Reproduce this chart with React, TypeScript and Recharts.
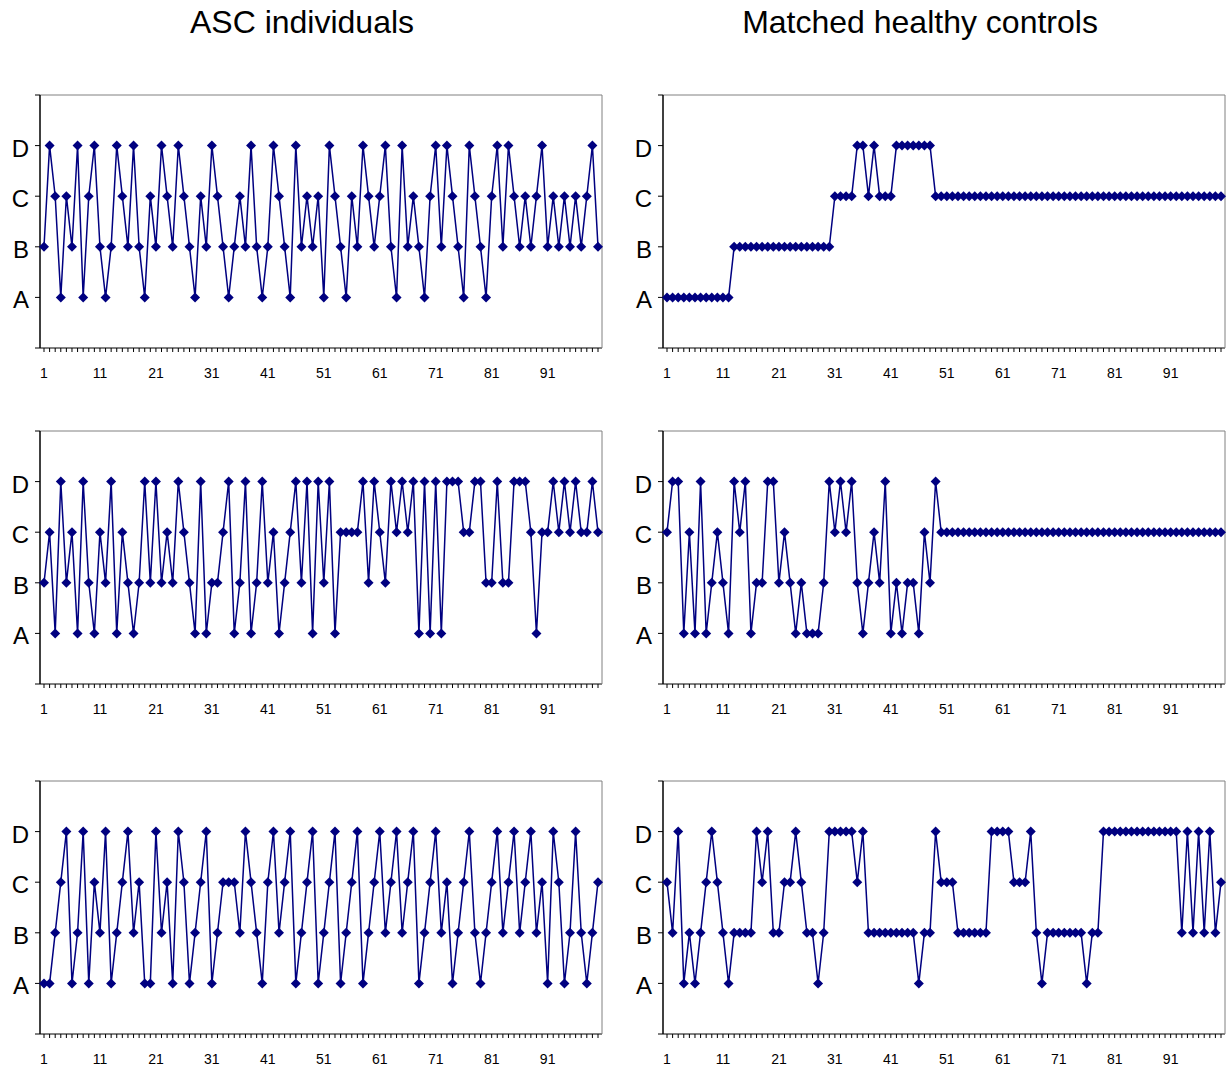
import React from "react";
import { LineChart, Line, XAxis, YAxis } from "recharts";

// response categories shown on the y axis (index = value)
const CATEGORY_LABELS = ["", "A", "B", "C", "D", ""];
const X_LABELS = [1, 11, 21, 31, 41, 51, 61, 71, 81, 91];

// A=1, B=2, C=3, D=4, one value per trial (100 trials)
const ascPanel1 = [
  2, 4, 3, 1, 3, 2, 4, 1, 3, 4,
  2, 1, 2, 4, 3, 2, 4, 2, 1, 3,
  2, 4, 3, 2, 4, 3, 2, 1, 3, 2,
  4, 3, 2, 1, 2, 3, 2, 4, 2, 1,
  2, 4, 3, 2, 1, 4, 2, 3, 2, 3,
  1, 4, 3, 2, 1, 3, 2, 4, 3, 2,
  3, 4, 2, 1, 4, 2, 3, 2, 1, 3,
  4, 2, 4, 3, 2, 1, 4, 3, 2, 1,
  3, 4, 2, 4, 3, 2, 3, 2, 3, 4,
  2, 3, 2, 3, 2, 3, 2, 3, 4, 2,
];

const ascPanel2 = [
  2, 3, 1, 4, 2, 3, 1, 4, 2, 1,
  3, 2, 4, 1, 3, 2, 1, 2, 4, 2,
  4, 2, 3, 2, 4, 3, 2, 1, 4, 1,
  2, 2, 3, 4, 1, 2, 4, 1, 2, 4,
  2, 3, 1, 2, 3, 4, 2, 4, 1, 4,
  2, 4, 1, 3, 3, 3, 3, 4, 2, 4,
  3, 2, 4, 3, 4, 3, 4, 1, 4, 1,
  4, 1, 4, 4, 4, 3, 3, 4, 4, 2,
  2, 4, 2, 2, 4, 4, 4, 3, 1, 3,
  3, 4, 3, 4, 3, 4, 3, 3, 4, 3,
];

const ascPanel3 = [
  1, 1, 2, 3, 4, 1, 2, 4, 1, 3,
  2, 4, 1, 2, 3, 4, 2, 3, 1, 1,
  4, 2, 3, 1, 4, 3, 1, 2, 3, 4,
  1, 2, 3, 3, 3, 2, 4, 3, 2, 1,
  3, 4, 2, 3, 4, 1, 2, 3, 4, 1,
  2, 3, 4, 1, 2, 3, 4, 1, 2, 3,
  4, 2, 3, 4, 2, 3, 4, 1, 2, 3,
  4, 2, 3, 1, 2, 3, 4, 2, 1, 2,
  3, 4, 2, 3, 4, 2, 3, 4, 2, 3,
  1, 4, 3, 1, 2, 4, 2, 1, 2, 3,
];

const controlPanel1 = [
  1, 1, 1, 1, 1, 1, 1, 1, 1, 1,
  1, 1, 2, 2, 2, 2, 2, 2, 2, 2,
  2, 2, 2, 2, 2, 2, 2, 2, 2, 2,
  3, 3, 3, 3, 4, 4, 3, 4, 3, 3,
  3, 4, 4, 4, 4, 4, 4, 4, 3, 3,
  3, 3, 3, 3, 3, 3, 3, 3, 3, 3,
  3, 3, 3, 3, 3, 3, 3, 3, 3, 3,
  3, 3, 3, 3, 3, 3, 3, 3, 3, 3,
  3, 3, 3, 3, 3, 3, 3, 3, 3, 3,
  3, 3, 3, 3, 3, 3, 3, 3, 3, 3,
];

const controlPanel2 = [
  3, 4, 4, 1, 3, 1, 4, 1, 2, 3,
  2, 1, 4, 3, 4, 1, 2, 2, 4, 4,
  2, 3, 2, 1, 2, 1, 1, 1, 2, 4,
  3, 4, 3, 4, 2, 1, 2, 3, 2, 4,
  1, 2, 1, 2, 2, 1, 3, 2, 4, 3,
  3, 3, 3, 3, 3, 3, 3, 3, 3, 3,
  3, 3, 3, 3, 3, 3, 3, 3, 3, 3,
  3, 3, 3, 3, 3, 3, 3, 3, 3, 3,
  3, 3, 3, 3, 3, 3, 3, 3, 3, 3,
  3, 3, 3, 3, 3, 3, 3, 3, 3, 3,
];

const controlPanel3 = [
  3, 2, 4, 1, 2, 1, 2, 3, 4, 3,
  2, 1, 2, 2, 2, 2, 4, 3, 4, 2,
  2, 3, 3, 4, 3, 2, 2, 1, 2, 4,
  4, 4, 4, 4, 3, 4, 2, 2, 2, 2,
  2, 2, 2, 2, 2, 1, 2, 2, 4, 3,
  3, 3, 2, 2, 2, 2, 2, 2, 4, 4,
  4, 4, 3, 3, 3, 4, 2, 1, 2, 2,
  2, 2, 2, 2, 2, 1, 2, 2, 4, 4,
  4, 4, 4, 4, 4, 4, 4, 4, 4, 4,
  4, 4, 2, 4, 2, 4, 2, 4, 2, 3,
];

const NAVY = "#000080";
const FONT = '"Liberation Sans", Arial, Helvetica, sans-serif';
const BORDER = "#808080";

const CHART_W = 605;
const PLOT_H = 253;
const X_AXIS_H = 38;
const TOP_PAD = 2;

function diamond(props: any) {
  const { cx, cy, index } = props;
  if (cx == null || cy == null) return <g key={`d${index}`} />;
  const r = 5;
  return (
    <path
      key={`d${index}`}
      d={`M${cx},${cy - r}L${cx + r},${cy}L${cx},${cy + r}L${cx - r},${cy}Z`}
      fill={NAVY}
    />
  );
}

function XTick(props: any) {
  const { x, y, payload } = props;
  if (!X_LABELS.includes(Number(payload.value))) return null;
  return (
    <text x={x} y={y + 26} textAnchor="middle" fontSize={14} fill="#000">
      {payload.value}
    </text>
  );
}

function YTick(props: any) {
  const { x, y, payload } = props;
  const label = CATEGORY_LABELS[payload.value];
  if (!label) return null;
  return (
    <text x={x} y={y} dy={11} textAnchor="end" fontSize={24} fill="#000">
      {label}
    </text>
  );
}

function Panel({ values, left, top }: { values: number[]; left: number; top: number }) {
  const data = values.map((v, i) => ({ trial: i + 1, v }));
  return (
    <div style={{ position: "absolute", left, top: top - TOP_PAD }}>
      <LineChart
        width={CHART_W}
        height={TOP_PAD + PLOT_H + X_AXIS_H}
        data={data}
        margin={{ top: TOP_PAD - 1, right: 2, bottom: 0, left: 0 }}
      >
        <XAxis
          dataKey="trial"
          type="category"
          interval={0}
          tick={<XTick />}
          tickSize={4}
          tickMargin={0}
          tickLine={{ stroke: "#000" }}
          axisLine={{ stroke: "#000" }}
          height={X_AXIS_H}
          padding={{ left: 4, right: 4 }}
        />
        <XAxis
          xAxisId="top"
          orientation="top"
          dataKey="trial"
          type="category"
          tick={false}
          tickLine={false}
          height={1}
          axisLine={{ stroke: BORDER }}
        />
        <YAxis
          type="number"
          domain={[0, 5]}
          ticks={[0, 1, 2, 3, 4, 5]}
          interval={0}
          tick={<YTick />}
          tickSize={5}
          tickMargin={6}
          tickLine={{ stroke: "#000" }}
          axisLine={{ stroke: "#000", strokeWidth: 1.5 }}
          width={40}
        />
        <YAxis
          yAxisId="right"
          orientation="right"
          type="number"
          domain={[0, 5]}
          tick={false}
          tickLine={false}
          width={1}
          axisLine={{ stroke: BORDER }}
        />
        {/* invisible series that keeps the border axes alive */}
        <Line
          xAxisId="top"
          yAxisId="right"
          dataKey="v"
          stroke="none"
          dot={false}
          activeDot={false}
          isAnimationActive={false}
        />
        <Line
          type="linear"
          dataKey="v"
          stroke={NAVY}
          strokeWidth={1.5}
          dot={diamond}
          activeDot={false}
          isAnimationActive={false}
        />
      </LineChart>
    </div>
  );
}

const titleStyle: React.CSSProperties = {
  position: "absolute",
  top: 3,
  fontSize: 32,
  lineHeight: "38px",
  textAlign: "center",
  color: "#000",
};

export default function App() {
  const rows = [95, 431, 781];
  return (
    <div
      style={{
        position: "absolute",
        left: 0,
        top: 0,
        width: 1228,
        height: 1073,
        background: "#fff",
        overflow: "hidden",
        fontFamily: FONT,
      }}
    >
      <div style={{ ...titleStyle, left: 102, width: 400 }}>ASC individuals</div>
      <div style={{ ...titleStyle, left: 720, width: 400 }}>Matched healthy controls</div>

      <Panel values={ascPanel1} left={0} top={rows[0]} />
      <Panel values={ascPanel2} left={0} top={rows[1]} />
      <Panel values={ascPanel3} left={0} top={rows[2]} />

      <Panel values={controlPanel1} left={623} top={rows[0]} />
      <Panel values={controlPanel2} left={623} top={rows[1]} />
      <Panel values={controlPanel3} left={623} top={rows[2]} />
    </div>
  );
}
